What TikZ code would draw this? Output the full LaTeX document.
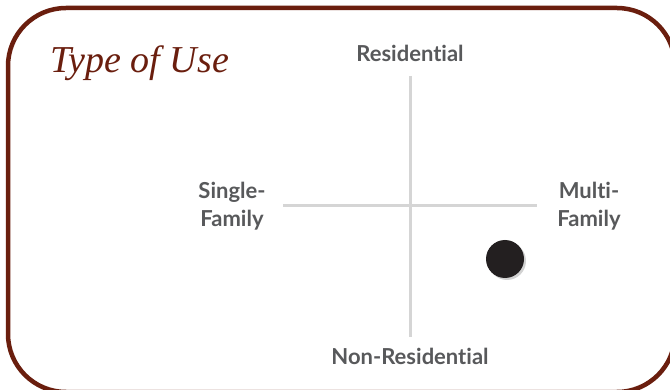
\documentclass[tikz,border=0pt]{standalone}
\usepackage{fontspec}
\setmainfont{Lato}[Ligatures=NoCommon]
\newfontfamily\titlefont{Liberation Serif}
\usetikzlibrary{shadows}
\definecolor{frameRed}{HTML}{6A1E0E}
\definecolor{labelGray}{HTML}{58595B}
\definecolor{axisGray}{HTML}{D5D5D5}
\definecolor{dotBlack}{HTML}{231F20}
\tikzset{
  axisline/.style={draw=axisGray, line width=3pt},
  axislabel/.style={text=labelGray, font=\fontsize{22}{28}\selectfont\bfseries, align=center, inner sep=0pt},
  titletext/.style={text=frameRed, font=\titlefont\itshape\fontsize{38}{42}\selectfont, inner sep=0pt, anchor=base west},
  marker/.style={circle, fill=dotBlack, minimum size=38pt, inner sep=0pt, drop shadow={opacity=0.35, shadow xshift=2pt, shadow yshift=-2pt}}
}
\begin{document}
\begin{tikzpicture}[x=1pt, y=-1pt]
\useasboundingbox (0,0) rectangle (670,390);
\fill[white] (0,0) rectangle (670,390);
\draw[frameRed, line width=4.5pt, rounded corners=58pt] (8,8) rectangle (675,392);
\node[titletext] (title) at (50,73) {Type of Use};
\coordinate (top) at (410,76);
\coordinate (bottom) at (410,337);
\coordinate (left) at (283,206);
\coordinate (right) at (537,206);
\draw[axisline] (top) -- (bottom);
\draw[axisline] (left) -- (right);
\node[axislabel] (res) at (410,53) {Residential};
\node[axislabel] (nonres) at (410,356) {Non-Residential};
\node[axislabel] (single) at (232,206) {Single-\\Family};
\node[axislabel] (multi) at (589,206) {Multi-\\Family};
\node[marker] (dot) at (505,259) {};
\end{tikzpicture}
\end{document}
